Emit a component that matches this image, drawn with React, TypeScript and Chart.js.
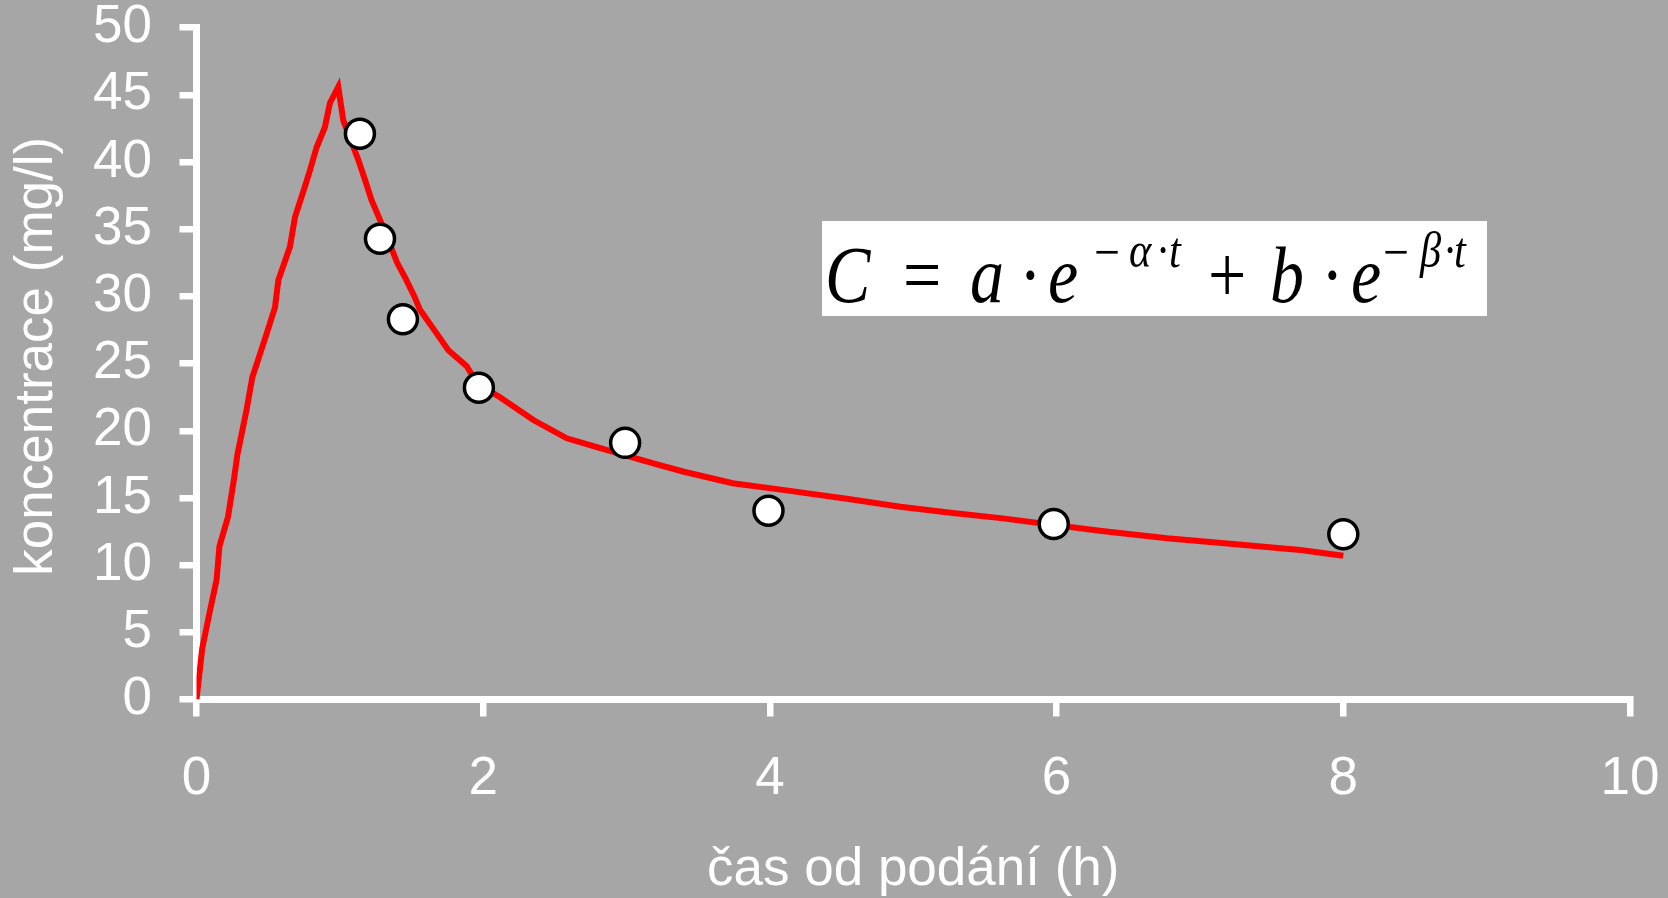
import { useEffect, useRef } from 'react';
import { Chart, registerables } from 'chart.js';

Chart.register(...registerables);

// Fitted two-compartment curve (time in h, concentration in mg/l)
const curveTime = [
  0, 0.04, 0.09, 0.14, 0.16, 0.22, 0.26, 0.285, 0.35, 0.39, 0.43, 0.49, 0.548, 0.571, 0.652, 0.687,
  0.757, 0.792, 0.838, 0.896, 0.931, 0.989, 1.024, 1.129, 1.175, 1.22, 1.3, 1.4, 1.46, 1.52, 1.559, 1.675,
  1.757, 1.885, 1.96, 2.117, 2.35, 2.583, 2.817, 3.187, 3.4, 3.74, 4.09, 4.56, 4.91, 5.26, 5.61, 6.3, 6.77,
  7.23, 7.7, 8.0,
];
const curveConc = [
  0, 3.8, 6.4, 8.9, 11.4, 13.6, 16.3, 18.2, 21.6, 24.0, 25.3, 27.25, 29.2, 31.2, 33.7, 35.9,
  38.2, 39.4, 41.1, 42.6, 44.4, 45.6, 43.1, 40.15, 38.7, 37.2, 35.2, 32.5, 31.3, 30.0, 29.0, 27.25,
  26.0, 24.8, 23.5, 22.5, 20.8, 19.44, 18.7, 17.58, 16.95, 16.1, 15.6, 14.9, 14.35, 13.9, 13.5, 12.56, 12.0,
  11.57, 11.12, 10.7,
];

// Measured concentrations
const measuredTime = [1.14, 1.28, 1.44, 1.97, 2.99, 3.99, 5.98, 8.0];
const measuredConc = [42.1, 34.3, 28.3, 23.2, 19.1, 14.05, 13.06, 12.3];

const xTickValues = [0, 2, 4, 6, 8, 10];
const yTickValues = [0, 5, 10, 15, 20, 25, 30, 35, 40, 45, 50];

const xTitle = 'čas od podání (h)';
const yTitle = ' koncentrace (mg/l)';

const BG = '#a6a6a6';
const W = 1668;
const H = 898;

const formulaPlugin = {
  id: 'formulaBox',
  afterDraw(chart: any) {
    const { ctx } = chart;
    const bx = 822;
    const by = 221;
    const bw = 665;
    const bh = 95;
    ctx.save();
    ctx.fillStyle = '#ffffff';
    ctx.fillRect(bx, by, bw, bh);
    ctx.fillStyle = '#000000';
    ctx.textBaseline = 'alphabetic';
    ctx.textAlign = 'left';
    const sx = 0.85;
    // [text, left x, baseline y, font size, italic]
    const pieces: [string, number, number, number, boolean][] = [
      ['C', 825, 302, 80, true],
      ['=', 903, 302, 80, false],
      ['a', 970, 302, 80, true],
      ['·', 1019, 302, 80, false],
      ['e', 1048, 302, 80, true],
      ['−', 1094, 270, 54, false],
      ['α', 1129, 267, 50, true],
      ['·', 1156, 267, 50, false],
      ['t', 1169, 267, 50, true],
      ['+', 1208, 302, 80, false],
      ['b', 1270, 302, 80, true],
      ['·', 1321, 302, 80, false],
      ['e', 1351, 302, 80, true],
      ['−', 1383, 270, 54, false],
      ['β', 1420, 267, 50, true],
      ['·', 1443, 267, 50, false],
      ['t', 1454, 267, 50, true],
    ];
    for (const [txt, px, py, size, italic] of pieces) {
      ctx.save();
      ctx.translate(px, py);
      ctx.scale(sx, 1);
      ctx.font = `${italic ? 'italic ' : ''}${size}px "Liberation Serif", "DejaVu Serif", serif`;
      ctx.fillText(txt, 0, 0);
      ctx.restore();
    }
    ctx.restore();
  },
};

const zeroPadding = (scale: any) => {
  scale.paddingLeft = 0;
  scale.paddingRight = 0;
  scale.paddingTop = 0;
  scale.paddingBottom = 0;
};

export default function App() {
  const canvasRef = useRef<HTMLCanvasElement | null>(null);

  useEffect(() => {
    const canvas = canvasRef.current;
    if (!canvas) return;
    const tickFont = { family: '"Liberation Sans", Arial, sans-serif', size: 53, lineHeight: 1 };
    const chart = new Chart(canvas, {
      type: 'scatter',
      data: {
        datasets: [
          {
            label: 'měření',
            data: measuredTime.map((t, i) => ({ x: t, y: measuredConc[i] })),
            pointRadius: 14.5,
            pointHoverRadius: 14.5,
            backgroundColor: '#ffffff',
            borderColor: '#000000',
            borderWidth: 3.5,
            showLine: false,
            order: 0,
          },
          {
            label: 'model',
            data: curveTime.map((t, i) => ({ x: t, y: curveConc[i] })),
            showLine: true,
            pointRadius: 0,
            pointHoverRadius: 0,
            borderColor: '#ff0000',
            backgroundColor: '#ff0000',
            borderWidth: 6,
            tension: 0,
            fill: false,
            order: 1,
          },
        ],
      },
      options: {
        responsive: false,
        animation: false,
        devicePixelRatio: 1,
        layout: { padding: { top: 27.7, right: 38, bottom: 0, left: 0 } },
        plugins: {
          legend: { display: false },
          tooltip: { enabled: false },
          title: { display: false },
        },
        scales: {
          x: {
            type: 'linear',
            min: 0,
            max: 10,
            afterBuildTicks: (scale: any) => {
              scale.ticks = xTickValues.map((v) => ({ value: v }));
            },
            afterFit: (scale: any) => {
              scale.height = H - 699.5;
              zeroPadding(scale);
            },
            ticks: {
              color: '#ffffff',
              font: tickFont,
              padding: 36,
              maxRotation: 0,
              autoSkip: false,
            },
            grid: {
              drawOnChartArea: false,
              drawTicks: true,
              tickLength: 17,
              color: '#ffffff',
              lineWidth: 6.5,
            },
            border: { display: true, color: '#ffffff', width: 7 },
            title: {
              display: true,
              text: xTitle,
              color: '#ffffff',
              font: { family: '"Liberation Sans", Arial, sans-serif', size: 53, lineHeight: 1 },
              padding: { top: 0, bottom: 1 },
            },
          },
          y: {
            type: 'linear',
            min: 0,
            max: 50,
            afterBuildTicks: (scale: any) => {
              scale.ticks = yTickValues.map((v) => ({ value: v }));
            },
            afterFit: (scale: any) => {
              scale.width = 196.5;
              zeroPadding(scale);
            },
            ticks: {
              color: '#ffffff',
              font: tickFont,
              padding: 27.5,
              autoSkip: false,
            },
            grid: {
              drawOnChartArea: false,
              drawTicks: true,
              tickLength: 17,
              color: '#ffffff',
              lineWidth: 6.5,
            },
            border: { display: true, color: '#ffffff', width: 7 },
            title: {
              display: true,
              text: yTitle,
              color: '#ffffff',
              font: { family: '"Liberation Sans", Arial, sans-serif', size: 53, lineHeight: 1.2 },
              padding: { top: 6, bottom: 0 },
            },
          },
        },
      },
      plugins: [formulaPlugin],
    } as any);
    return () => chart.destroy();
  }, []);

  return (
    <div style={{ position: 'absolute', left: 0, top: 0, width: W, height: H, background: BG, overflow: 'hidden' }}>
      <canvas ref={canvasRef} width={W} height={H} style={{ display: 'block', width: W, height: H }} />
    </div>
  );
}
